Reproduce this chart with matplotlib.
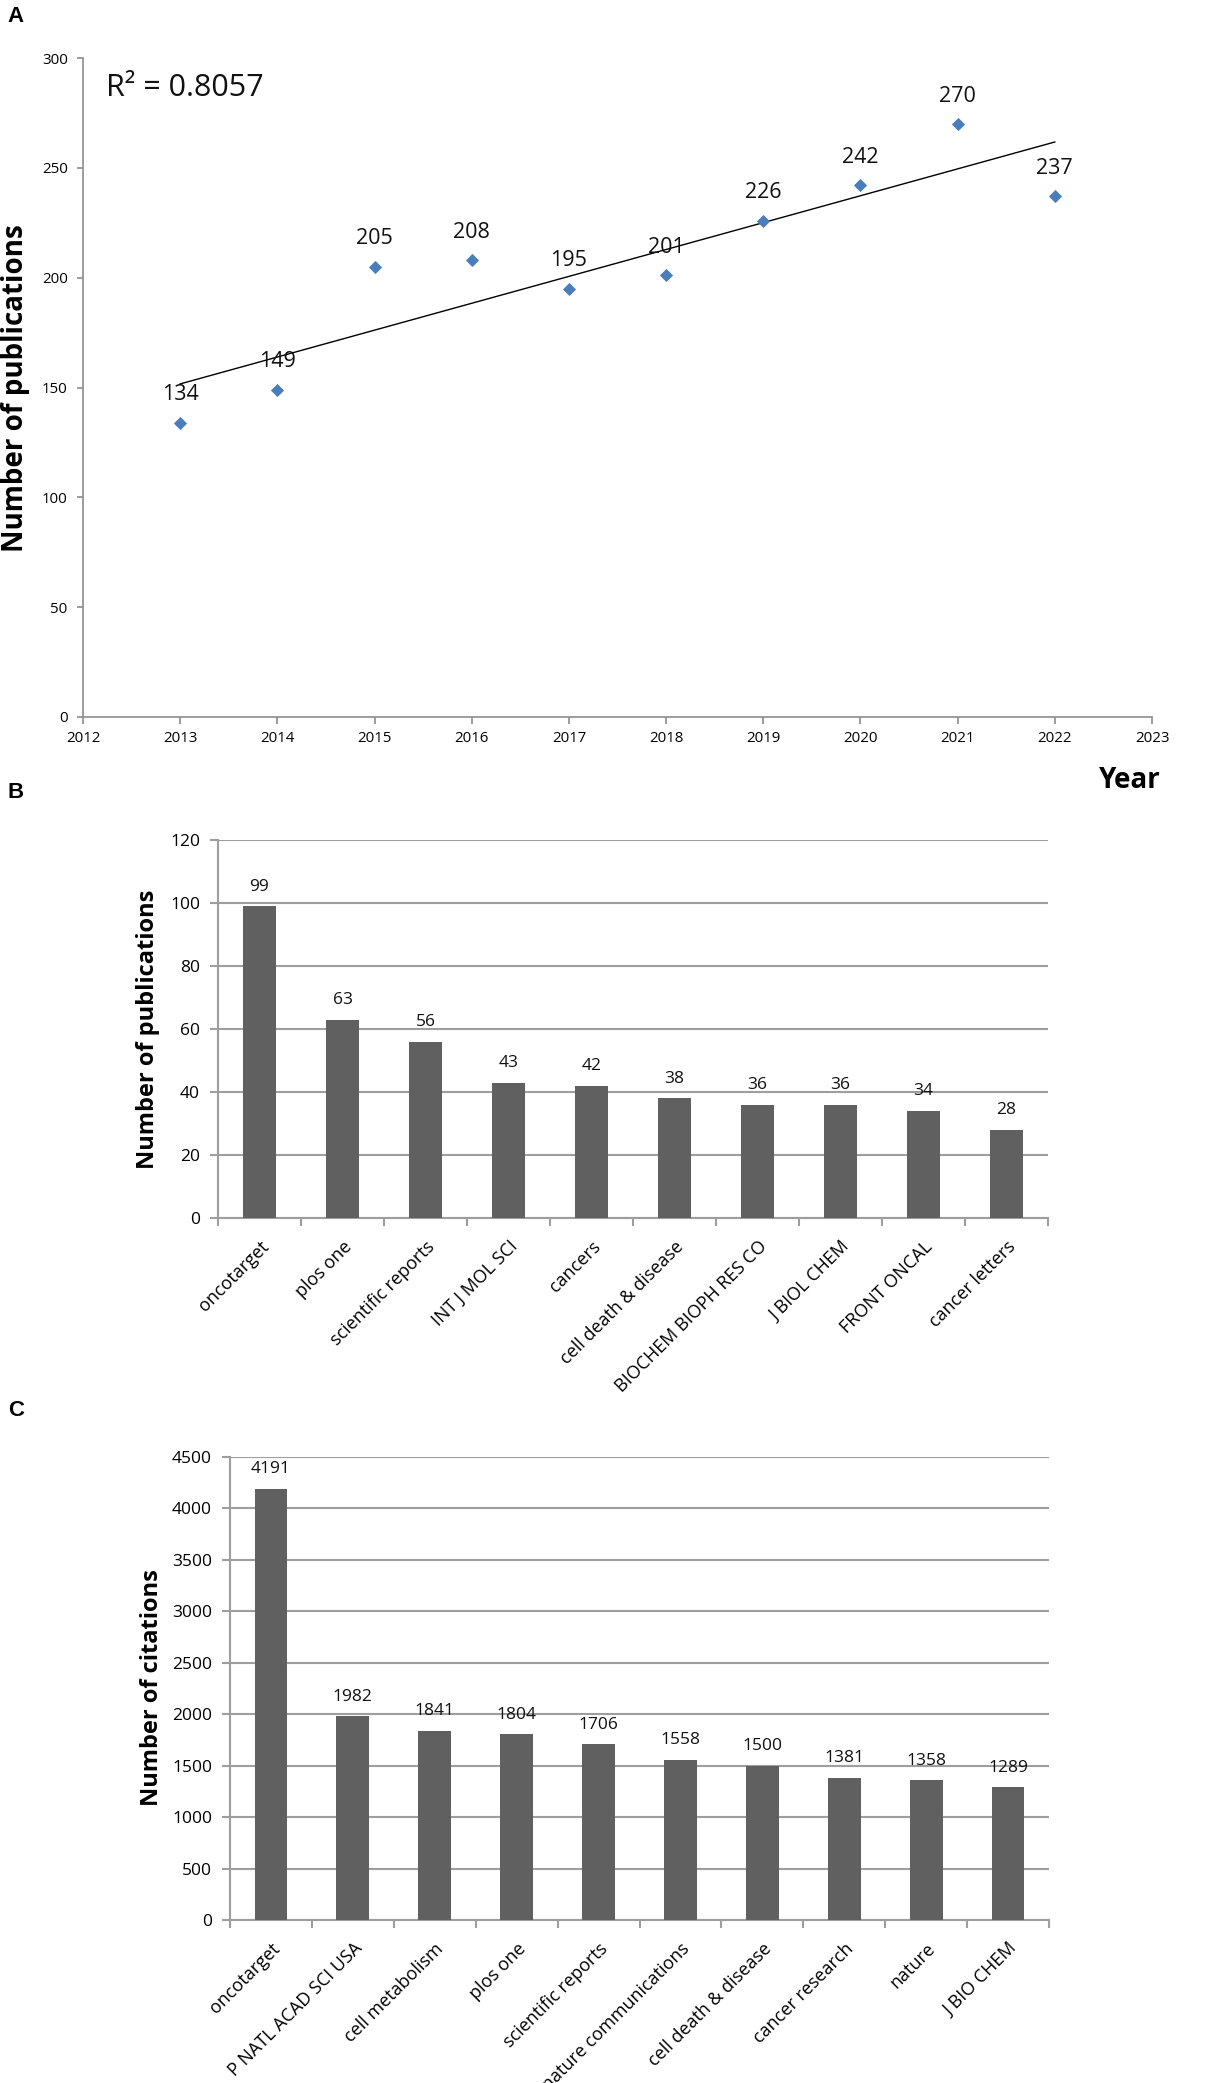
import matplotlib
matplotlib.use("Agg")
import matplotlib.pyplot as plt
import numpy as np

plt.rcParams["font.family"] = ["Open Sans", "DejaVu Sans"]

# Panel A: publications per year
years = [2013, 2014, 2015, 2016, 2017, 2018, 2019, 2020, 2021, 2022]
pubs_per_year = [134, 149, 205, 208, 195, 201, 226, 242, 270, 237]
r2_text = "R² = 0.8057"

# Panel B: top journals by publications
journals_pub = ["oncotarget", "plos one", "scientific reports", "INT J MOL SCI",
                "cancers", "cell death & disease", "BIOCHEM BIOPH RES CO",
                "J BIOL CHEM", "FRONT ONCAL", "cancer letters"]
pub_counts = [99, 63, 56, 43, 42, 38, 36, 36, 34, 28]

# Panel C: top journals by citations
journals_cit = ["oncotarget", "P NATL ACAD SCI USA", "cell metabolism", "plos one",
                "scientific reports", "nature communications", "cell death & disease",
                "cancer research", "nature", "J BIO CHEM"]
cit_counts = [4191, 1982, 1841, 1804, 1706, 1558, 1500, 1381, 1358, 1289]

W, H = 1206, 2083
AXIS_GRAY = "#8c8c8c"
GRID_GRAY = "#9e9e9e"
BAR_COLOR = "#606060"
POINT_BLUE = "#4a7ebb"


def frac_box(left, top, right, bottom):
    """Pixel box -> figure fraction rect."""
    return [left / W, 1 - bottom / H, (right - left) / W, (bottom - top) / H]


fig = plt.figure(figsize=(W / 100, H / 100), dpi=100)

# ---- Panel A ----
axA = fig.add_axes(frac_box(83, 58, 1152, 717))
axA.scatter(years, pubs_per_year, marker="D", s=45, color=POINT_BLUE, zorder=3,
            linewidths=0)
slope, intercept = np.polyfit(years, pubs_per_year, 1)
fit_x = np.array([years[0], years[-1]])
axA.plot(fit_x, slope * fit_x + intercept, color="black", lw=1.0, zorder=2)
for x, y in zip(years, pubs_per_year):
    axA.annotate(str(y), (x, y), xytext=(0, 20), textcoords="offset points",
                 ha="center", va="center", fontsize=15.5, color="#111111")
axA.set_xlim(2012, 2023)
axA.set_ylim(0, 300)
axA.set_xticks(range(2012, 2024))
axA.set_yticks(range(0, 301, 50))
for side in ["top", "right"]:
    axA.spines[side].set_visible(False)
for side in ["left", "bottom"]:
    axA.spines[side].set_color(AXIS_GRAY)
    axA.spines[side].set_linewidth(1.2)
axA.tick_params(axis="x", length=5, width=1.2, color=AXIS_GRAY, pad=5, labelsize=10.8)
axA.tick_params(axis="y", length=4, width=1.2, color=AXIS_GRAY, pad=7, labelsize=10.8)
axA.text(0.0215, 0.954, r2_text, transform=axA.transAxes, fontsize=22,
         ha="left", va="center", color="#111111")
fig.text(16 / W, 1 - 388 / H, "Number of publications", rotation=90,
         fontsize=20, fontweight="bold", ha="center", va="center")
fig.text(1130 / W, 1 - 780 / H, "Year", fontsize=20, fontweight="bold",
         ha="center", va="center")


def bar_panel(ax, labels, values, ymax, ystep, ylabel, ylabel_xy):
    pos = np.arange(len(values))
    ax.bar(pos, values, width=0.4, color=BAR_COLOR, zorder=3)
    for p, v in zip(pos, values):
        ax.annotate(str(v), (p, v), xytext=(0, 14), textcoords="offset points",
                    ha="center", va="center", fontsize=12.5, color="#111111")
    ax.set_xlim(-0.5, len(values) - 0.5)
    ax.set_ylim(0, ymax)
    ax.set_yticks(np.arange(0, ymax + 1, ystep))
    ax.yaxis.grid(True, color=GRID_GRAY, lw=1.5, zorder=0)
    ax.set_axisbelow(True)
    ax.set_xticks(pos)
    ax.set_xticklabels(labels, rotation=45, ha="right", rotation_mode="anchor",
                       fontsize=13)
    ax.set_xticks(np.arange(-0.5, len(values)), minor=True)
    ax.tick_params(axis="x", which="major", length=0, pad=14)
    ax.tick_params(axis="x", which="minor", length=6, width=1.5, color=GRID_GRAY)
    ax.tick_params(axis="y", length=6, width=1.5, color=GRID_GRAY, pad=7,
                   labelsize=12.5)
    for side in ["top", "right"]:
        ax.spines[side].set_visible(False)
    for side in ["left", "bottom"]:
        ax.spines[side].set_color(GRID_GRAY)
        ax.spines[side].set_linewidth(1.5)
    fig.text(ylabel_xy[0] / W, 1 - ylabel_xy[1] / H, ylabel, rotation=90,
             fontsize=17, fontweight="bold", ha="center", va="center")


# ---- Panel B ----
axB = fig.add_axes(frac_box(218, 840, 1048, 1218))
bar_panel(axB, journals_pub, pub_counts, 120, 20, "Number of publications", (148, 1029))

# ---- Panel C ----
axC = fig.add_axes(frac_box(230, 1457, 1049, 1920))
bar_panel(axC, journals_cit, cit_counts, 4500, 500, "Number of citations", (152, 1688))

# panel letters
for letter, y in [("A", 16), ("B", 792), ("C", 1411)]:
    fig.text(16 / W, 1 - y / H, letter, fontsize=16, fontweight="bold",
             family=["Liberation Sans", "DejaVu Sans"], ha="center", va="center")

fig.savefig("out.png", dpi=100, facecolor="white")
